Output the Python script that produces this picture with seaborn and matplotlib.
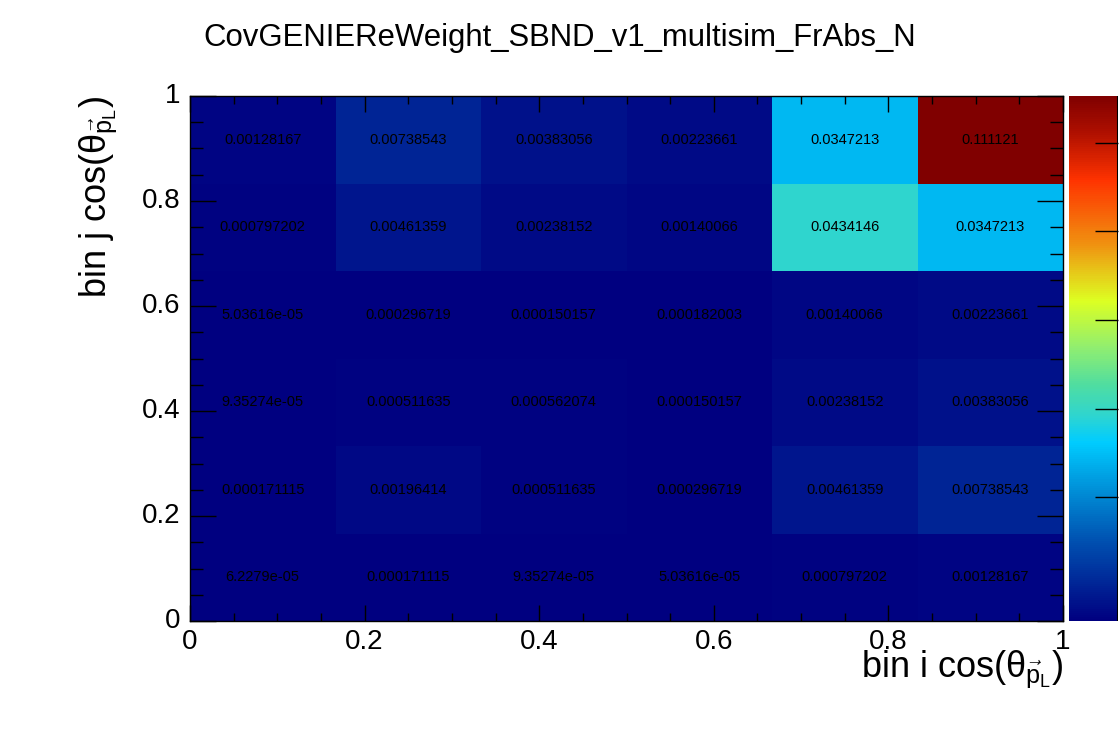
import numpy as np
import pandas as pd
import seaborn as sns
import matplotlib.pyplot as plt
from matplotlib.colors import LinearSegmentedColormap
from matplotlib.ticker import FixedLocator

sns.set_theme(style="ticks")
plt.rcParams['font.family'] = ['Liberation Sans', 'DejaVu Sans']
plt.rcParams['mathtext.fontset'] = 'custom'
plt.rcParams['mathtext.rm'] = 'Liberation Sans'
plt.rcParams['mathtext.it'] = 'Liberation Sans'
plt.rcParams['mathtext.bf'] = 'Liberation Sans'
plt.rcParams['text.color'] = 'black'
plt.rcParams['axes.labelcolor'] = 'black'
plt.rcParams['xtick.color'] = 'black'
plt.rcParams['ytick.color'] = 'black'

# covariance cells, rows go from bin j = 0 (bottom) to bin j = 5 (top)
bin_ids = [0, 1, 2, 3, 4, 5]
cov_row0 = [6.2279e-05, 0.000171115, 9.35274e-05, 5.03616e-05, 0.000797202, 0.00128167]
cov_row1 = [0.000171115, 0.00196414, 0.000511635, 0.000296719, 0.00461359, 0.00738543]
cov_row2 = [9.35274e-05, 0.000511635, 0.000562074, 0.000150157, 0.00238152, 0.00383056]
cov_row3 = [5.03616e-05, 0.000296719, 0.000150157, 0.000182003, 0.00140066, 0.00223661]
cov_row4 = [0.000797202, 0.00461359, 0.00238152, 0.00140066, 0.0434146, 0.0347213]
cov_row5 = [0.00128167, 0.00738543, 0.00383056, 0.00223661, 0.0347213, 0.111121]

tick_values = [0, 0.2, 0.4, 0.6, 0.8, 1]
tick_labels = ['0', '0.2', '0.4', '0.6', '0.8', '1']
title = 'CovGENIEReWeight_SBND_v1_multisim_FrAbs_N'

cov = pd.DataFrame([cov_row0, cov_row1, cov_row2, cov_row3, cov_row4, cov_row5],
                   index=bin_ids, columns=bin_ids)
n = len(bin_ids)

# ROOT-like rainbow palette
palette = LinearSegmentedColormap.from_list('root_rainbow', [
    (0.00, '#000080'),
    (0.15, '#0050b0'),
    (0.25, '#0090d8'),
    (0.34, '#00ccff'),
    (0.39, '#2ed5d0'),
    (0.45, '#50dda0'),
    (0.52, '#90ee70'),
    (0.61, '#ddff22'),
    (0.72, '#f09010'),
    (0.84, '#ff3300'),
    (0.93, '#b01000'),
    (1.00, '#800000'),
])

fig = plt.figure(figsize=(11.2, 7.4), dpi=100)
ax = fig.add_axes([190/1120, 1 - 621/740, 873/1120, 525/740])
cax = fig.add_axes([1069/1120, 1 - 621/740, 49/1120, 525/740])

vmax = cov.values.max()
sns.heatmap(cov, ax=ax, cbar_ax=cax, cmap=palette, vmin=0, vmax=vmax,
            annot=True, fmt='g', annot_kws={'size': 10.5, 'color': 'black'},
            linewidths=0, cbar_kws={'ticks': np.linspace(0.0262, 0.1012, 5)})
ax.invert_yaxis()
ax.set_xlim(0, n)
ax.set_ylim(0, n)
ax.set_axisbelow(False)

pos = np.array(tick_values) * n
ax.set_xticks(pos)
ax.set_xticklabels(tick_labels, fontsize=20, rotation=0)
ax.set_yticks(pos)
ax.set_yticklabels(tick_labels, fontsize=20, rotation=0)
minor = np.arange(0, 1.0001, 0.05) * n
ax.xaxis.set_minor_locator(FixedLocator(minor))
ax.yaxis.set_minor_locator(FixedLocator(minor))
ax.tick_params(axis='both', which='both', direction='in', top=True, right=True,
               color='black', width=1)
ax.tick_params(axis='x', which='major', length=11.5, pad=6)
ax.tick_params(axis='x', which='minor', length=5.8)
ax.tick_params(axis='y', which='major', length=18.7, pad=7)
ax.tick_params(axis='y', which='minor', length=9.4)
for s in ax.spines.values():
    s.set_visible(True)
    s.set_color('black')
    s.set_linewidth(1)
    s.set_zorder(5)

ax.set_xlabel(r'bin i cos($\theta_{\vec{p}_{L}}$)', fontsize=26, loc='right', labelpad=-5)
ax.set_ylabel(r'bin j cos($\theta_{\vec{p}_{L}}$)', fontsize=26, loc='top', labelpad=16)

cax.tick_params(axis='y', direction='in', length=16.5, width=1, color='black',
                labelright=False)
cax.set_axisbelow(False)
cbar = ax.collections[0].colorbar
cbar.outline.set_visible(False)
cax.axvline(1, color='black', lw=1.5)

fig.text(560/1120, 1 - 38/740, title, fontsize=22.4, ha='center', va='center')

fig.savefig('out.png', dpi=100)
